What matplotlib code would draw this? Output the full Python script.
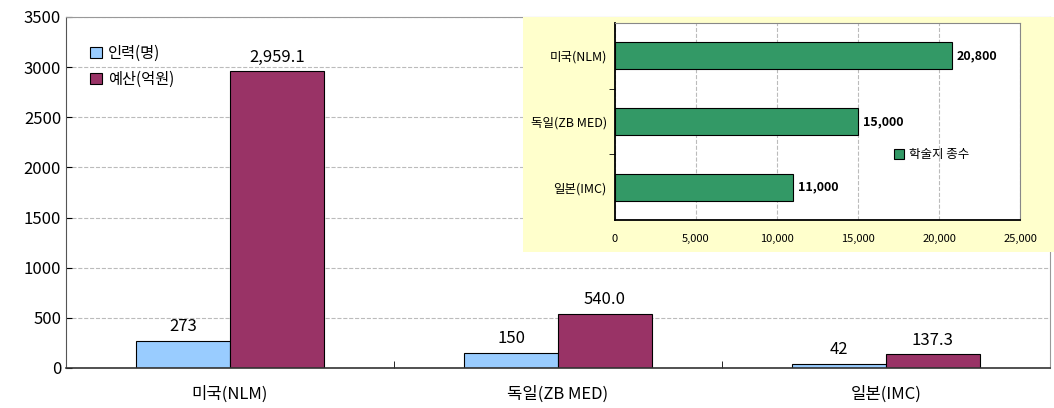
import numpy as np
import matplotlib
matplotlib.use('Agg')
import matplotlib.pyplot as plt

plt.rcParams['font.family'] = ['Noto Sans CJK KR', 'DejaVu Sans']

# 주 차트 데이터
categories = ['미국(NLM)', '독일(ZB MED)', '일본(IMC)']
staff = [273, 150, 42]
budget = [2959.1, 540.0, 137.3]
staff_labels = ['273', '150', '42']
budget_labels = ['2,959.1', '540.0', '137.3']

# 삽입 차트 데이터 (학술지 종수)
journal_cats = ['미국(NLM)', '독일(ZB MED)', '일본(IMC)']
journals = [20800, 15000, 11000]
journal_labels = ['20,800', '15,000', '11,000']

fig = plt.figure(figsize=(10.54, 4.08), dpi=100)
ax = fig.add_axes([66 / 1054, 1 - 368 / 408, (1050 - 66) / 1054, (368 - 17) / 408])

x = np.arange(len(categories))
w = 0.286
b1 = ax.bar(x - w / 2, staff, w, color='#99CCFF', edgecolor='black', linewidth=0.8, label='인력(명)')
b2 = ax.bar(x + w / 2, budget, w, color='#993366', edgecolor='black', linewidth=0.8, label='예산(억원)')
for rect, lab in zip(b1, staff_labels):
    ax.text(rect.get_x() + rect.get_width() / 2, rect.get_height() + 55, lab,
            ha='center', va='bottom', fontsize=12)
for rect, lab in zip(b2, budget_labels):
    ax.text(rect.get_x() + rect.get_width() / 2, rect.get_height() + 55, lab,
            ha='center', va='bottom', fontsize=12)

ax.set_xlim(-0.5, 2.5)
ax.set_ylim(0, 3500)
ax.set_yticks(np.arange(0, 3501, 500))
ax.set_xticks(x)
ax.set_xticklabels(categories, fontsize=12)
ax.set_xticks([0.5, 1.5], minor=True)
ax.tick_params(axis='x', which='major', length=0, pad=13)
ax.tick_params(axis='x', which='minor', length=5, direction='in')
ax.tick_params(axis='y', labelsize=12, length=4, direction='in')
ax.yaxis.grid(True, linestyle='--', color='#BBBBBB', linewidth=0.8)
ax.set_axisbelow(True)
for s in ['top', 'right']:
    ax.spines[s].set_color('#999999')
ax.spines['left'].set_color('#555555')
ax.spines['bottom'].set_color('#333333')
ax.spines['bottom'].set_linewidth(1.2)
ax.legend(loc='upper left', bbox_to_anchor=(0.01, 0.96), frameon=False, fontsize=11,
          handlelength=0.8, handleheight=0.8, handletextpad=0.4, labelspacing=0.6)

# 노란 배경
bg = fig.add_axes([523 / 1054, 1 - 252 / 408, (1054 - 523) / 1054, (252 - 17) / 408])
bg.set_facecolor('#FFFFCC')
bg.set_xticks([])
bg.set_yticks([])
for s in bg.spines.values():
    s.set_visible(False)

# 삽입 가로 막대 차트
ax2 = fig.add_axes([615 / 1054, 1 - 220 / 408, (1020 - 615) / 1054, (220 - 23) / 408])
y = np.arange(len(journal_cats))[::-1]
hb = ax2.barh(y, journals, 0.41, color='#339966', edgecolor='black', linewidth=0.8, label='학술지 종수')
for rect, lab in zip(hb, journal_labels):
    ax2.text(rect.get_width() + 300, rect.get_y() + rect.get_height() / 2, lab,
             ha='left', va='center', fontsize=9, fontweight='bold')
ax2.set_xlim(0, 25000)
ax2.set_ylim(-0.5, 2.5)
ax2.set_xticks(np.arange(0, 25001, 5000))
ax2.set_xticklabels(['0', '5,000', '10,000', '15,000', '20,000', '25,000'], fontsize=8)
ax2.set_yticks(y)
ax2.set_yticklabels(journal_cats, fontsize=9)
ax2.set_yticks([0.5, 1.5], minor=True)
ax2.tick_params(axis='y', which='major', length=0, pad=6)
ax2.tick_params(axis='y', which='minor', length=4)
ax2.tick_params(axis='x', length=0, pad=10)
ax2.xaxis.grid(True, linestyle='--', color='#BBBBBB', linewidth=0.8)
ax2.set_axisbelow(True)
for s in ['top', 'right']:
    ax2.spines[s].set_color('#888888')
ax2.spines['left'].set_linewidth(1.3)
ax2.spines['bottom'].set_linewidth(1.3)
ax2.legend(loc='center left', bbox_to_anchor=(0.66, 0.33), frameon=False, fontsize=9,
           handlelength=0.8, handleheight=0.8, handletextpad=0.4)

fig.savefig('out.png', dpi=100)
